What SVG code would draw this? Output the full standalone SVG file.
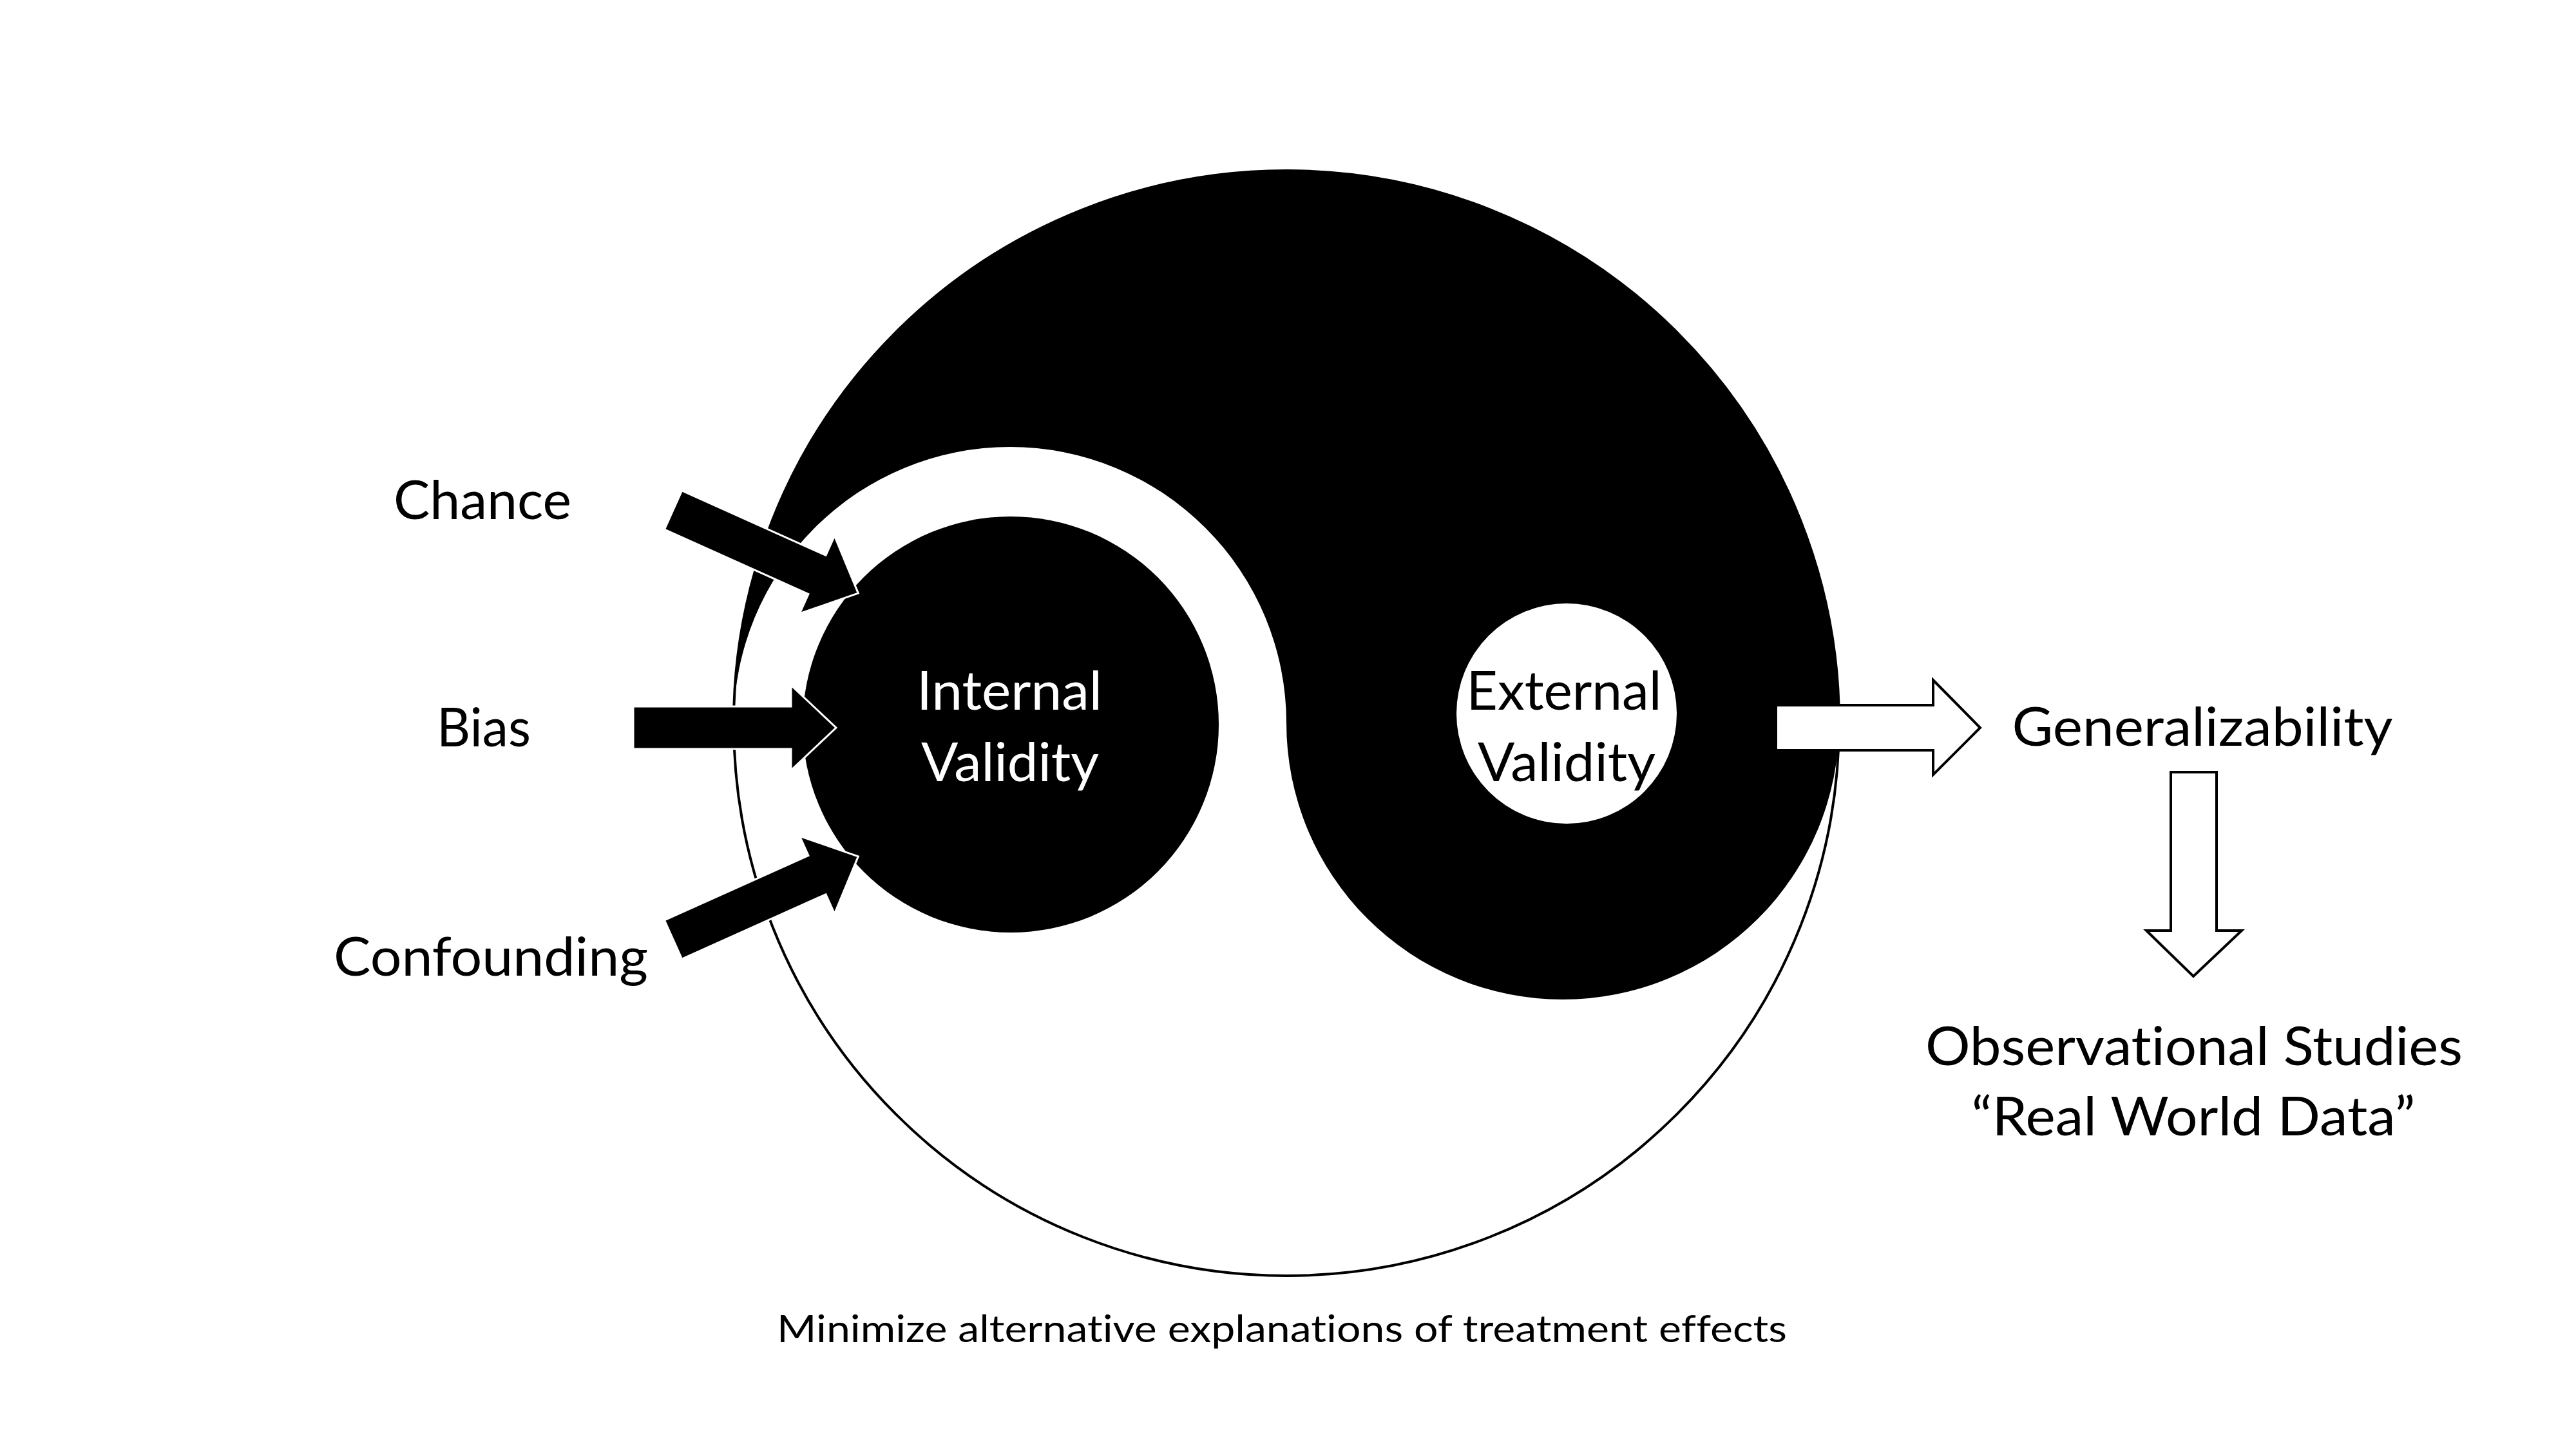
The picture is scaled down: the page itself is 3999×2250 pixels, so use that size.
<svg xmlns="http://www.w3.org/2000/svg" width="3999" height="2250" viewBox="0 0 3999 2250">
<style>
.t{font-family:Lato,"Open Sans","Liberation Sans",sans-serif;font-size:84px;fill:#000;text-anchor:middle;font-variant-ligatures:none;font-feature-settings:"liga" 0,"dlig" 0}
.w{fill:#fff}
.s{font-size:59px}
.blk{fill:#000;stroke:#fff;stroke-width:3;stroke-linejoin:miter}
.wht{fill:#fff;stroke:#000;stroke-width:4;stroke-linejoin:miter}
</style>
<defs>
<polygon id="inArrow" points="0,-33 245,-33 245,-66 315,0 245,66 245,33 0,33"/>
</defs>
<rect width="3999" height="2250" fill="#fff"/>
<g id="yinyang">
<path d="M1139,1123 A858,858 0 0 1 2855,1123 A429,429 0 0 1 1997,1123 A429,429 0 0 0 1139,1123 Z" fill="#000"/>
<circle cx="1997" cy="1123" r="858" fill="none" stroke="#000" stroke-width="4"/>
</g>
<g id="internal-validity">
<circle cx="1569" cy="1125" r="323" fill="#000"/>
<text class="t w" x="1567" y="1102" textLength="288" lengthAdjust="spacingAndGlyphs">Internal</text>
<text class="t w" x="1568" y="1213" textLength="276" lengthAdjust="spacingAndGlyphs">Validity</text>
</g>
<g id="external-validity">
<circle cx="2432" cy="1108" r="171" fill="#fff"/>
<text class="t" x="2428" y="1102" textLength="303" lengthAdjust="spacingAndGlyphs">External</text>
<text class="t" x="2432" y="1213" textLength="276" lengthAdjust="spacingAndGlyphs">Validity</text>
</g>
<g id="chance"><text class="t" x="749" y="806" textLength="276" lengthAdjust="spacingAndGlyphs">Chance</text></g>
<g id="bias"><text class="t" x="751" y="1159" textLength="146" lengthAdjust="spacingAndGlyphs">Bias</text></g>
<g id="confounding"><text class="t" x="762" y="1515" textLength="488" lengthAdjust="spacingAndGlyphs">Confounding</text></g>
<g id="generalizability"><text class="t" x="3419" y="1158" textLength="591" lengthAdjust="spacingAndGlyphs">Generalizability</text></g>
<g id="observational">
<text class="t" x="3406" y="1654" textLength="834" lengthAdjust="spacingAndGlyphs">Observational Studies</text>
<text class="t" x="3405" y="1763" textLength="689" lengthAdjust="spacingAndGlyphs">“Real World Data”</text>
</g>
<g id="caption"><text class="t s" x="1990" y="2084" textLength="1568" lengthAdjust="spacingAndGlyphs">Minimize alternative explanations of treatment effects</text></g>
<g id="connectors">
<use href="#inArrow" class="blk" transform="translate(1045,792) rotate(24.2)"/>
<use href="#inArrow" class="blk" transform="translate(983,1130)"/>
<use href="#inArrow" class="blk" transform="translate(1045,1459) rotate(-24.2)"/>
<polygon class="wht" points="2757,1095 3001,1095 3001,1056 3074,1130 3001,1203 3001,1165 2757,1165"/>
<polygon class="wht" points="3370,1199 3441,1199 3441,1445 3480,1445 3405,1516 3332,1445 3370,1445"/>
</g>
</svg>
